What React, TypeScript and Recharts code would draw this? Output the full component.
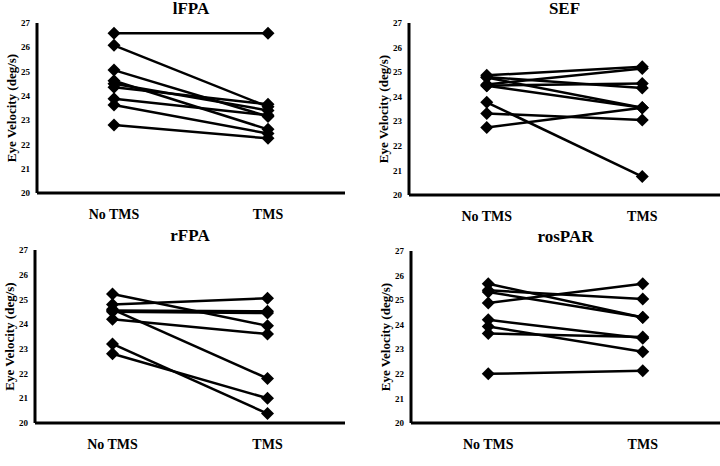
import { LineChart, Line, XAxis, YAxis } from "recharts";

const conditions = ["No TMS", "TMS"];
const yTicks = [20, 21, 22, 23, 24, 25, 26, 27];

// one entry per subject: value before (No TMS) and after (TMS)
const lfpaNoTms = [26.58, 26.08, 25.06, 24.62, 24.5, 24.35, 23.88, 23.62, 22.8];
const lfpaTms = [26.58, 23.55, 23.15, 22.62, 23.4, 23.65, 23.2, 22.45, 22.25];

const sefNoTms = [24.87, 24.8, 24.78, 24.5, 24.45, 24.45, 23.77, 23.32, 22.75];
const sefTms = [25.22, 24.35, 23.55, 25.15, 24.54, 23.55, 20.75, 23.05, 23.55];

const rfpaNoTms = [25.22, 24.79, 24.55, 24.5, 24.6, 24.2, 23.2, 22.8];
const rfpaTms = [23.93, 25.05, 24.52, 24.45, 21.8, 23.6, 20.38, 21.0];

const rosparNoTms = [25.67, 25.4, 25.33, 24.88, 24.2, 23.93, 23.64, 22.0];
const rosparTms = [24.29, 25.05, 24.3, 25.67, 23.45, 22.9, 23.5, 22.13];

const FONT = "'Liberation Serif', 'Times New Roman', serif";

function buildRows(before: number[], after: number[]) {
    const a: Record<string, any> = { cond: conditions[0] };
    const b: Record<string, any> = { cond: conditions[1] };
    before.forEach((v, i) => { a[`s${i}`] = v; b[`s${i}`] = after[i]; });
    return [a, b];
}

const Diamond = (props: any) => {
    const { cx, cy, index, dataKey } = props;
    if (cx == null || cy == null) return <g key={`${dataKey}-${index}`} />;
    const r = 6.5;
    return (
        <path key={`${dataKey}-${index}`}
            d={`M${cx},${cy - r}L${cx + r},${cy}L${cx},${cy + r}L${cx - r},${cy}Z`}
            fill="#000" stroke="none" />
    );
};

const YTitle = (props: any) => {
    const vb = props.viewBox || {};
    const cy = vb.y + vb.height / 2;
    const x = 10;
    return (
        <text x={x} y={cy} transform={`rotate(-90 ${x} ${cy})`} textAnchor="middle" dominantBaseline="central"
            fontFamily={FONT} fontWeight="bold" fontSize={13} fill="#000">
            Eye Velocity (deg/s)
        </text>
    );
};

type PanelProps = {
    title: string; before: number[]; after: number[];
    axisX: number; topY: number; bottomY: number; rightX: number;
};

function Panel({ title, before, after, axisX, topY, bottomY, rightX }: PanelProps) {
    const yw = 36;
    const left = axisX - yw;
    const top = topY - 22;
    const height = 230;
    const width = rightX - left;
    const rows = buildRows(before, after);
    return (
        <div style={{ position: "absolute", left, top, width, height }}>
            <div style={{
                position: "absolute", left: yw, width: rightX - axisX, top: -2, textAlign: "center",
                fontFamily: FONT, fontWeight: "bold", fontSize: 17, lineHeight: "20px",
            }}>{title}</div>
            <LineChart width={width} height={height} data={rows}
                margin={{ top: 22, right: 0, left: 0, bottom: height - 22 - (bottomY - topY) - 30 }}>
                <XAxis dataKey="cond" scale="band" height={30} tickLine={false} tickSize={0} tickMargin={16}
                    axisLine={{ stroke: "#000", strokeWidth: 3 }}
                    tick={{ fill: "#000", fontFamily: FONT, fontWeight: "bold", fontSize: 14 }} />
                <YAxis width={yw} domain={[20, 27]} ticks={yTicks} tickLine={false} tickSize={0} tickMargin={7}
                    axisLine={{ stroke: "#000", strokeWidth: 3 }} allowDataOverflow
                    tick={{ fill: "#000", fontFamily: FONT, fontWeight: "bold", fontSize: 9 }}
                    label={{ content: YTitle }} />
                {before.map((_, i) => (
                    <Line key={i} dataKey={`s${i}`} stroke="#000" strokeWidth={2.5} isAnimationActive={false}
                        dot={Diamond} activeDot={false} />
                ))}
            </LineChart>
        </div>
    );
}

export default function App() {
    return (
        <div style={{ position: "absolute", left: 0, top: 0, width: 720, height: 466, background: "#fff" }}>
            <Panel title="lFPA" before={lfpaNoTms} after={lfpaTms} axisX={37} topY={23} bottomY={193} rightX={345} />
            <Panel title="SEF" before={sefNoTms} after={sefTms} axisX={409} topY={23} bottomY={195} rightX={720} />
            <Panel title="rFPA" before={rfpaNoTms} after={rfpaTms} axisX={35} topY={250} bottomY={423} rightX={345} />
            <Panel title="rosPAR" before={rosparNoTms} after={rosparTms} axisX={411} topY={251} bottomY={423} rightX={720} />
        </div>
    );
}
